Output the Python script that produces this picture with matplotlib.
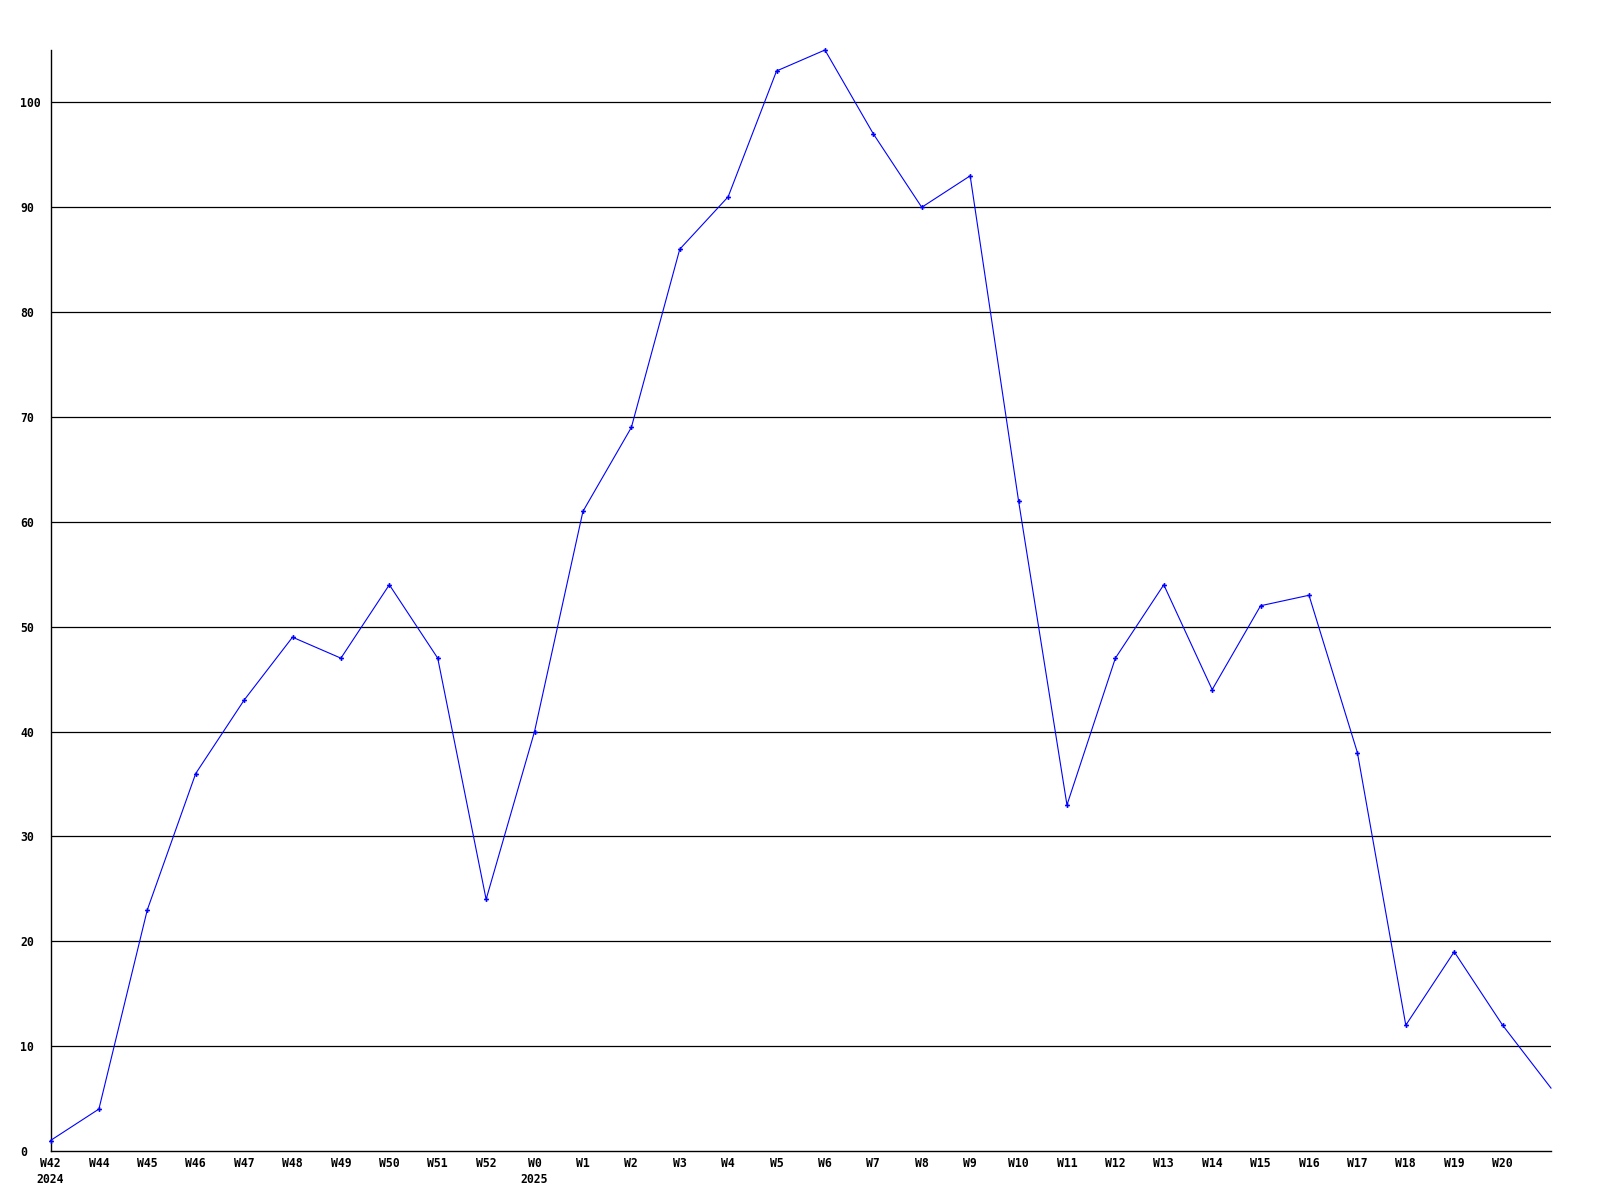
import matplotlib
matplotlib.use('Agg')
import matplotlib.pyplot as plt

# weekly counts, W42/2024 .. W21/2025 (W43 missing in source)
week_labels = ['W42\n2024', 'W44', 'W45', 'W46', 'W47', 'W48', 'W49', 'W50',
               'W51', 'W52', 'W0\n2025', 'W1', 'W2', 'W3', 'W4', 'W5', 'W6',
               'W7', 'W8', 'W9', 'W10', 'W11', 'W12', 'W13', 'W14', 'W15',
               'W16', 'W17', 'W18', 'W19', 'W20']
counts = [1, 4, 23, 36, 43, 49, 47, 54, 47, 24, 40, 61, 69, 86, 91, 103, 105,
          97, 90, 93, 62, 33, 47, 54, 44, 52, 53, 38, 12, 19, 12, 6]
y_ticks = [0, 10, 20, 30, 40, 50, 60, 70, 80, 90, 100]

fig = plt.figure(figsize=(16, 12), dpi=100)
ax = fig.add_axes([50.5 / 1600, 1 - 1151 / 1200, (1551 - 50.5) / 1600, (1151 - 50) / 1200])

# grid lines (skip zero, the axis covers it)
for v in y_ticks[1:]:
    ax.axhline(v, color='black', linewidth=0.9, zorder=1)

x = list(range(len(counts)))
# last week is still running: line goes to the edge, no marker there
ax.plot(x, counts, color='#0000ff', linewidth=0.8, marker='P', markersize=3.5,
        markeredgewidth=0, markevery=list(range(len(counts) - 1)),
        zorder=3, clip_on=False)

ax.set_xlim(0, len(counts) - 1)
ax.set_ylim(0, max(counts))

for side in ['top', 'right']:
    ax.spines[side].set_visible(False)
for side in ['left', 'bottom']:
    ax.spines[side].set_color('black')
    ax.spines[side].set_linewidth(1.0)

font = dict(family='DejaVu Sans Mono', fontweight='bold', fontsize=8.3)

ax.set_xticks(range(len(week_labels)))
ax.set_xticklabels(week_labels, linespacing=1.3, **font)
ax.tick_params(axis='x', length=0, pad=4)

ax.set_yticks(y_ticks)
ax.set_yticklabels([str(v) for v in y_ticks], **font)
ax.tick_params(axis='y', length=0, pad=22)
for lbl in ax.get_yticklabels():
    lbl.set_horizontalalignment('left')

fig.savefig('out.png', dpi=100)
plt.close(fig)
